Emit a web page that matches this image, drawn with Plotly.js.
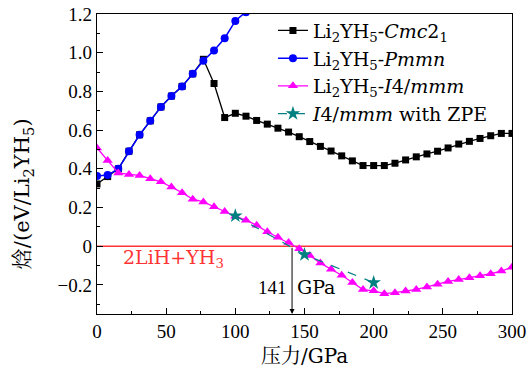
<!DOCTYPE html>
<html>
<head>
<meta charset="utf-8">
<script src="https://cdn.plot.ly/plotly-3.0.1.min.js"></script>
<style>html,body{margin:0;padding:0;background:#fff;}#chart{width:529px;height:376px;}</style>
</head>
<body>
<div id="chart"></div>
<script>
// Pressure grid (GPa)
const pressure = [0, 7.7, 15.4, 23.1, 30.8, 38.5, 46.2, 53.8, 61.5, 69.2, 76.9, 84.6, 92.3, 100, 107.7, 115.4, 123.1, 130.8, 138.5, 146.2, 153.8, 161.5, 169.2, 176.9, 184.6, 192.3, 200, 207.7, 215.4, 223.1, 230.8, 238.5, 246.2, 253.8, 261.5, 269.2, 276.9, 284.6, 292.3, 300];

// Enthalpy (eV / Li2YH5) relative to 2LiH + YH3
const cmc21 = [0.322, 0.36, 0.400, 0.491, 0.576, 0.648, 0.720, 0.776, 0.826, 0.891, 0.966, 0.841, 0.665, 0.687, 0.672, 0.650, 0.631, 0.610, 0.590, 0.566, 0.541, 0.516, 0.492, 0.467, 0.441, 0.417, 0.417, 0.417, 0.429, 0.446, 0.462, 0.477, 0.491, 0.508, 0.528, 0.542, 0.557, 0.571, 0.583, 0.583];
const pmmn = [0.363, 0.368, 0.400, 0.491, 0.576, 0.648, 0.720, 0.776, 0.826, 0.891, 0.959, 1.012, 1.075, 1.164, 1.209, 1.26];
const i4mmm = [0.508, 0.443, 0.379, 0.371, 0.366, 0.349, 0.333, 0.306, 0.277, 0.243, 0.229, 0.204, 0.179, 0.155, 0.135, 0.108, 0.075, 0.046, 0.019, -0.013, -0.048, -0.087, -0.119, -0.150, -0.187, -0.224, -0.230, -0.245, -0.240, -0.231, -0.223, -0.210, -0.196, -0.182, -0.172, -0.163, -0.152, -0.142, -0.128, -0.108];
const zpePressure = [100, 150, 200];
const zpeEnergy = [0.157, -0.043, -0.188];

const baselineEnergy = 0;
const transitionPressure = 141;

const xTicks = [0, 50, 100, 150, 200, 250, 300];
const yTicks = [-0.2, 0, 0.2, 0.4, 0.6, 0.8, 1.0, 1.2];
const yTickText = ['\u22120.2', '0', '0.2', '0.4', '0.6', '0.8', '1.0', '1.2'];

const FONT_NUM = "Liberation Serif, Times New Roman, serif";
const FONT_TXT = "DejaVu Serif, Noto Serif CJK SC, Noto Sans CJK SC, serif";

const traces = [
  {x: pressure.slice(0, cmc21.length), y: cmc21, mode: 'lines+markers', name: 'Li<sub>2</sub>YH<sub>5</sub>-<i>Cmc</i>2<sub>1</sub>',
   line: {color: '#000000', width: 1.3}, marker: {symbol: 'square', size: 7, color: '#000000'}},
  {x: pressure.slice(0, pmmn.length), y: pmmn, mode: 'lines+markers', name: 'Li<sub>2</sub>YH<sub>5</sub>-<i>Pmmn</i>',
   line: {color: '#0000ff', width: 1.5}, marker: {symbol: 'circle', size: 8, color: '#0000ff'}},
  {x: pressure.slice(0, i4mmm.length), y: i4mmm, mode: 'lines+markers', name: 'Li<sub>2</sub>YH<sub>5</sub>-<i>I</i>4/<i>mmm</i>',
   line: {color: '#ff00ff', width: 1.3}, marker: {symbol: 'triangle-up', size: 9, color: '#ff00ff'}},
  {x: zpePressure, y: zpeEnergy, mode: 'lines+markers', name: '<i>I</i>4/<i>mmm</i> with ZPE',
   line: {color: '#008080', width: 1.2, dash: 'dash'}, marker: {symbol: 'star', size: 11, color: '#008080'}}
];

const layout = {
  width: 529, height: 376,
  margin: {l: 97, r: 17, t: 12, b: 62},
  paper_bgcolor: '#ffffff', plot_bgcolor: '#ffffff',
  font: {family: FONT_NUM, size: 19, color: '#000000'},
  showlegend: true,
  legend: {x: 0.424, y: 1.008, xanchor: 'left', yanchor: 'top', bgcolor: 'rgba(0,0,0,0)', borderwidth: 0,
           font: {family: FONT_TXT, size: 19}, tracegroupgap: 0},
  xaxis: {range: [0, 300], tickvals: xTicks, ticks: 'inside', ticklen: 6, tickwidth: 1, tickcolor: '#000',
          minor: {dtick: 25, tick0: 0, ticks: 'inside', ticklen: 3, tickcolor: '#000'},
          showline: true, mirror: true, linecolor: '#000', linewidth: 1.2, showgrid: false, zeroline: false,
          tickfont: {family: FONT_NUM, size: 19}},
  yaxis: {range: [-0.35, 1.2], tickvals: yTicks, ticktext: yTickText, ticks: 'inside', ticklen: 6, tickwidth: 1, tickcolor: '#000',
          minor: {dtick: 0.1, tick0: 0, ticks: 'inside', ticklen: 3, tickcolor: '#000'},
          showline: true, mirror: true, linecolor: '#000', linewidth: 1.2, showgrid: false, zeroline: false,
          tickfont: {family: FONT_NUM, size: 19}},
  shapes: [
    {type: 'line', xref: 'paper', yref: 'y', x0: 0, x1: 1, y0: baselineEnergy, y1: baselineEnergy,
     line: {color: '#ff3333', width: 1.5}, layer: 'below'}
  ],
  annotations: [
    {xref: 'x', yref: 'y', axref: 'x', ayref: 'y', x: transitionPressure, y: -0.35, ax: transitionPressure, ay: baselineEnergy,
     text: '', showarrow: true, arrowhead: 2, arrowsize: 1, arrowwidth: 1, arrowcolor: '#000', standoff: 0},
    {xref: 'x', yref: 'y', x: transitionPressure, y: -0.212, text: String(transitionPressure), showarrow: false,
     xanchor: 'right', yanchor: 'middle', xshift: -3, font: {family: FONT_NUM, size: 19, color: '#000'}},
    {xref: 'x', yref: 'y', x: transitionPressure, y: -0.212, text: 'GPa', showarrow: false,
     xanchor: 'left', yanchor: 'middle', xshift: 3, font: {family: FONT_TXT, size: 19, color: '#000'}},
    {xref: 'x', yref: 'y', x: 55, y: -0.062, text: '2LiH+YH<sub>3</sub>', showarrow: false,
     xanchor: 'center', yanchor: 'middle', font: {family: FONT_TXT, size: 19, color: '#ff3333'}},
    {xref: 'paper', yref: 'paper', x: 0.5, y: -0.139, text: '压力/GPa', showarrow: false,
     xanchor: 'center', yanchor: 'middle', font: {family: FONT_TXT, size: 20, color: '#000'}},
    {xref: 'paper', yref: 'paper', x: -0.178, y: 0.40, text: '焓/(eV/Li<sub>2</sub>YH<sub>5</sub>)', showarrow: false,
     textangle: -90, xanchor: 'center', yanchor: 'middle', font: {family: FONT_TXT, size: 21, color: '#000'}}
  ]
};

Plotly.newPlot('chart', traces, layout, {displayModeBar: false, staticPlot: true});
</script>
</body>
</html>
